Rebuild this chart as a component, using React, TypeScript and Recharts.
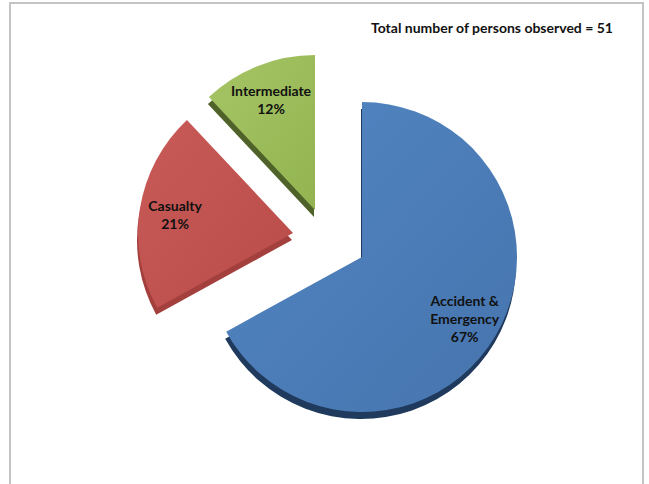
import { Pie, PieChart } from "recharts";

const categories = ["Accident & Emergency", "Casualty", "Intermediate"];
const shares = [67, 21, 12];
const totalObserved = 51;

const sliceColors = ["url(#gradBlue)", "url(#gradRed)", "url(#gradGreen)"];
const sideColors = ["#1f3a5c", "#a3403d", "#4f6229"];
// exploded slice centres (the Excel chart pulls two slices away from the big one)
const sliceCenters = [
  { cx: 362, cy: 257 },
  { cx: 293, cy: 233 },
  { cx: 315, cy: 210 },
];

const RADIUS = 155;
const DEPTH = 7;
const RADIAN = Math.PI / 180;
const FONT = "Lato, 'Open Sans', sans-serif";

function wrap(name: string, max = 11) {
  const lines: string[] = [];
  let cur = "";
  for (const w of name.split(" ")) {
    const next = cur ? `${cur} ${w}` : w;
    if (next.length > max && cur) {
      lines.push(cur);
      cur = w;
    } else {
      cur = next;
    }
  }
  if (cur) lines.push(cur);
  return lines;
}

function layerData(active: number, colors: string[]) {
  return categories.map((name, i) => ({
    name,
    value: shares[i],
    fill: i === active ? colors[i] : "transparent",
  }));
}

function makeLabel(active: number) {
  return (props: any) => {
    const { cx, cy, midAngle, outerRadius, index, name, value } = props;
    if (index !== active) return null;
    const r = outerRadius * 0.77;
    const x = cx + r * Math.cos(-midAngle * RADIAN);
    const y = cy + r * Math.sin(-midAngle * RADIAN);
    const lines = [...wrap(name), `${value}%`];
    const lh = 18;
    const y0 = y - ((lines.length - 1) * lh) / 2;
    return (
      <text
        x={x}
        y={y0}
        textAnchor="middle"
        dominantBaseline="central"
        fontFamily={FONT}
        fontWeight={700}
        fontSize={14}
        fill="#111"
      >
        {lines.map((l, k) => (
          <tspan key={k} x={x} y={y0 + k * lh}>
            {l}
          </tspan>
        ))}
      </text>
    );
  };
}

export default function App() {
  return (
    <div
      style={{
        position: "absolute",
        left: 0,
        top: 0,
        width: 649,
        height: 484,
        overflow: "hidden",
        background: "#fff",
      }}
    >
      <div
        style={{
          position: "absolute",
          left: 9,
          top: 2,
          width: 635,
          height: 500,
          border: "2px solid #c4c4c4",
          boxSizing: "border-box",
        }}
      />
      <div
        style={{
          position: "absolute",
          left: 371,
          top: 19,
          fontFamily: FONT,
          fontWeight: 700,
          fontSize: 14,
          color: "#111",
          whiteSpace: "nowrap",
        }}
      >
        {`Total number of persons observed = ${totalObserved}`}
      </div>
      <PieChart
        width={649}
        height={484}
        margin={{ top: 0, right: 0, bottom: 0, left: 0 }}
        style={{ position: "absolute", left: 0, top: 0 }}
      >
        <defs>
          <linearGradient id="gradBlue" x1="0" y1="0" x2="1" y2="1">
            <stop offset="0%" stopColor="#5286c3" />
            <stop offset="100%" stopColor="#4674ad" />
          </linearGradient>
          <linearGradient id="gradRed" x1="0" y1="0" x2="1" y2="1">
            <stop offset="0%" stopColor="#c85a57" />
            <stop offset="100%" stopColor="#b94b48" />
          </linearGradient>
          <linearGradient id="gradGreen" x1="0" y1="0" x2="1" y2="1">
            <stop offset="0%" stopColor="#a6c465" />
            <stop offset="100%" stopColor="#93b451" />
          </linearGradient>
        </defs>
        {categories.map((_, i) => (
          <Pie
            key={`side-${i}`}
            data={layerData(i, sideColors)}
            dataKey="value"
            cx={sliceCenters[i].cx - 1}
            cy={sliceCenters[i].cy + DEPTH}
            outerRadius={RADIUS}
            startAngle={90}
            endAngle={-270}
            stroke="none"
            isAnimationActive={false}
          />
        ))}
        {categories.map((_, i) => (
          <Pie
            key={`top-${i}`}
            data={layerData(i, sliceColors)}
            dataKey="value"
            cx={sliceCenters[i].cx}
            cy={sliceCenters[i].cy}
            outerRadius={RADIUS}
            startAngle={90}
            endAngle={-270}
            stroke="none"
            label={makeLabel(i)}
            labelLine={false}
            isAnimationActive={false}
          />
        ))}
      </PieChart>
    </div>
  );
}
